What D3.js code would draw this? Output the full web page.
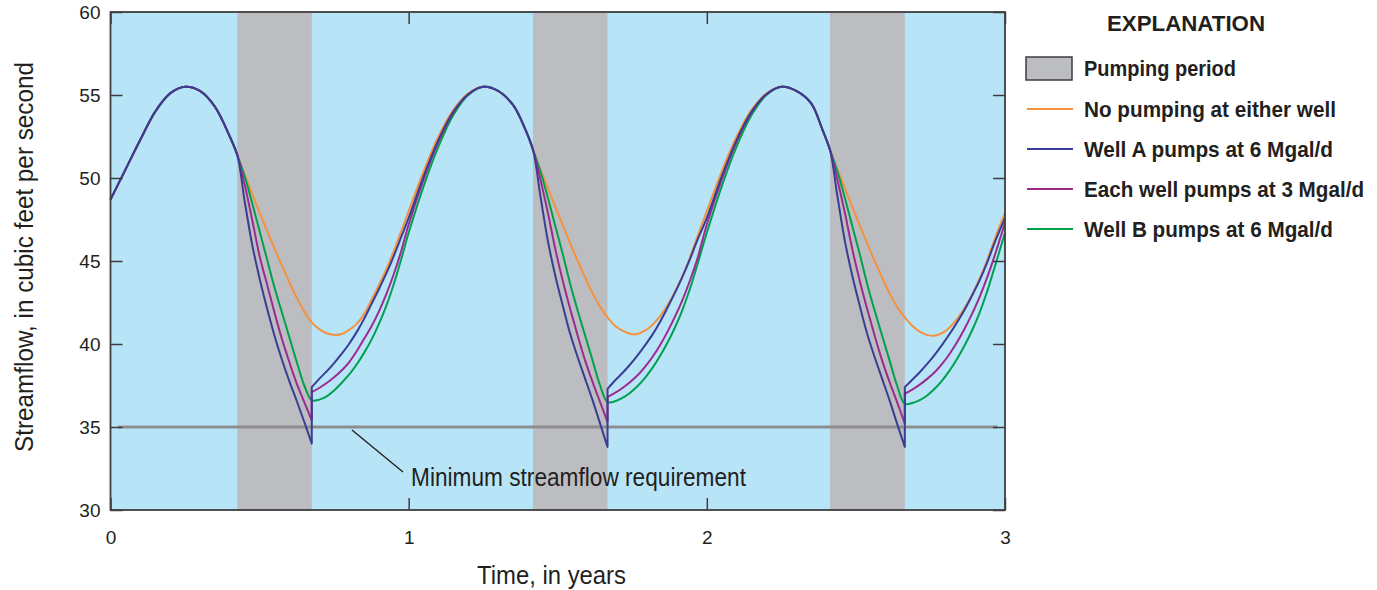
<!DOCTYPE html>
<html>
<head>
<meta charset="utf-8">
<script src="https://cdn.jsdelivr.net/npm/d3@7"></script>
<style>
  html, body { margin: 0; padding: 0; background: #ffffff; }
  svg { display: block; }
  text { font-family: 'Liberation Sans', Arial, sans-serif; fill: #231f20; }
</style>
</head>
<body>
<svg id="chart" width="1377" height="590"></svg>
<script>
// ---------------- DATA ----------------
const times = [
  0, 0.05, 0.1, 0.15, 0.2, 0.25, 0.3, 0.35, 0.4, 0.425,
  0.45, 0.475, 0.5, 0.525, 0.55, 0.575, 0.6, 0.625, 0.65, 0.675,
  0.675, 0.7, 0.725, 0.75, 0.775, 0.8, 0.825, 0.85, 0.875, 0.9, 0.925, 0.95, 0.975,
  1.0, 1.05, 1.1, 1.15, 1.2, 1.25, 1.3, 1.35, 1.392, 1.417,
  1.442, 1.467, 1.492, 1.517, 1.542, 1.567, 1.592, 1.617, 1.642, 1.667,
  1.667, 1.692, 1.717, 1.742, 1.767, 1.792, 1.817, 1.842, 1.867, 1.892, 1.917, 1.942, 1.967,
  2.0, 2.05, 2.1, 2.15, 2.2, 2.25, 2.3, 2.35, 2.388, 2.413,
  2.438, 2.463, 2.488, 2.513, 2.538, 2.563, 2.588, 2.613, 2.638, 2.664,
  2.664, 2.689, 2.714, 2.739, 2.764, 2.789, 2.814, 2.839, 2.864, 2.889, 2.914, 2.939, 2.964, 3.0
];

const noPumping = [
  48.7, 50.5, 52.3, 54.0, 55.1, 55.5, 55.25, 54.3, 52.5, 51.4,
  50.2, 49.05, 47.92, 46.82, 45.75, 44.72, 43.72, 42.78, 41.95, 41.3,
  41.3, 40.9, 40.65, 40.55, 40.6, 40.85, 41.2, 41.8, 42.65, 43.55, 44.5, 45.6, 46.8,
  48.0, 50.4, 52.5, 54.1, 55.1, 55.5, 55.25, 54.4, 52.9, 51.7,
  50.5, 49.4, 48.25, 47.15, 46.05, 45.0, 44.0, 43.05, 42.25, 41.6,
  41.6, 41.1, 40.8, 40.62, 40.6, 40.8, 41.15, 41.65, 42.3, 43.1, 44.05, 45.15, 46.4,
  48.0, 50.4, 52.5, 54.1, 55.1, 55.5, 55.25, 54.5, 52.9, 51.7,
  50.5, 49.4, 48.25, 47.15, 46.05, 45.0, 44.0, 43.05, 42.25, 41.6,
  41.6, 41.1, 40.75, 40.55, 40.5, 40.65, 41.0, 41.5, 42.15, 42.95, 43.9, 45.0, 46.25, 47.9
];

const wellA6 = [
  48.7, 50.5, 52.3, 54.0, 55.1, 55.5, 55.25, 54.3, 52.5, 51.4,
  48.6, 46.0, 43.95, 42.15, 40.5, 39.05, 37.75, 36.55, 35.3, 34.0,
  37.4, 37.9, 38.35, 38.85, 39.4, 40.0, 40.7, 41.5, 42.4, 43.3, 44.25, 45.3, 46.45,
  47.6, 50.1, 52.3, 54.0, 55.05, 55.5, 55.25, 54.4, 52.9, 51.7,
  48.9, 46.2, 44.1, 42.3, 40.6, 39.2, 37.9, 36.6, 35.2, 33.8,
  37.3, 37.8, 38.25, 38.75, 39.3, 39.9, 40.55, 41.3, 42.15, 43.05, 44.0, 45.05, 46.2,
  47.6, 50.1, 52.3, 54.0, 55.05, 55.5, 55.25, 54.5, 52.9, 51.7,
  48.9, 46.2, 44.1, 42.3, 40.6, 39.2, 37.9, 36.6, 35.2, 33.8,
  37.4, 37.85, 38.3, 38.8, 39.35, 39.95, 40.6, 41.3, 42.05, 42.9, 43.8, 44.85, 46.05, 47.6
];

const eachWell3 = [
  48.7, 50.5, 52.3, 54.0, 55.1, 55.5, 55.25, 54.3, 52.5, 51.4,
  49.6, 47.5, 45.3, 43.6, 41.9, 40.3, 38.9, 37.6, 36.5, 35.4,
  37.1, 37.35, 37.65, 38.0, 38.4, 38.9, 39.55, 40.3, 41.05, 41.95, 43.0, 44.2, 45.6,
  47.2, 49.9, 52.2, 53.95, 55.05, 55.5, 55.25, 54.4, 52.9, 51.7,
  49.9, 47.9, 45.7, 43.8, 42.1, 40.5, 39.0, 37.7, 36.5, 35.3,
  36.8, 37.05, 37.35, 37.7, 38.1, 38.6, 39.2, 39.9, 40.7, 41.6, 42.6, 43.75, 45.05,
  47.2, 49.9, 52.2, 53.95, 55.05, 55.5, 55.25, 54.5, 52.9, 51.7,
  49.9, 47.9, 45.7, 43.8, 42.1, 40.5, 39.0, 37.7, 36.5, 35.2,
  37.0, 37.25, 37.55, 37.9, 38.3, 38.8, 39.4, 40.1, 40.9, 41.8, 42.8, 43.95, 45.25, 47.3
];

const wellB6 = [
  48.7, 50.5, 52.3, 54.0, 55.1, 55.5, 55.25, 54.3, 52.5, 51.4,
  50.1, 48.5, 46.8, 45.1, 43.4, 41.9, 40.4, 38.9, 37.5, 36.6,
  36.6, 36.65, 36.85, 37.2, 37.65, 38.15, 38.75, 39.45, 40.25, 41.2, 42.3, 43.6, 45.1,
  46.7, 49.5, 51.9, 53.8, 55.0, 55.5, 55.25, 54.4, 52.9, 51.7,
  50.4, 48.8, 47.1, 45.4, 43.6, 42.0, 40.5, 39.0, 37.5, 36.5,
  36.5, 36.55, 36.75, 37.05, 37.45, 37.95, 38.55, 39.25, 40.05, 40.95, 42.0, 43.25, 44.7,
  46.7, 49.5, 51.9, 53.8, 55.0, 55.5, 55.25, 54.5, 52.9, 51.7,
  50.4, 48.8, 47.1, 45.4, 43.6, 42.0, 40.5, 39.0, 37.5, 36.4,
  36.4, 36.45, 36.62, 36.9, 37.3, 37.8, 38.4, 39.1, 39.9, 40.8, 41.85, 43.1, 44.55, 46.7
];

const pumpStarts = [0.425, 1.417, 2.413];
const pumpEnds   = [0.675, 1.667, 2.664];

const minimumFlow = 35;
const minimumSpan = [0.025, 2.975];

const yTicks = [30, 35, 40, 45, 50, 55, 60];
const xTicks = [0, 1, 2, 3];

const seriesNames  = ["No pumping at either well", "Well A pumps at 6 Mgal/d", "Each well pumps at 3 Mgal/d", "Well B pumps at 6 Mgal/d"];
const seriesValues = [noPumping, wellA6, eachWell3, wellB6];
const seriesColors = ["#f5923e", "#3a3d94", "#9c2a8f", "#00a04f"];

// ---------------- CHART ----------------
(function () {
const svg = d3.select("#chart");
const pL = 110.5, pR = 1005, pT = 12, pB = 510;
const FONT = "'Liberation Sans', Arial, sans-serif";

const x = d3.scaleLinear().domain([0, 3]).range([pL, pR]);
const y = d3.scaleLinear().domain([30, 60]).range([pB, pT]);

function fit(sel, w) {
  sel.attr("textLength", w).attr("lengthAdjust", "spacingAndGlyphs");
  return sel;
}

svg.append("rect")
  .attr("x", pL).attr("y", pT)
  .attr("width", pR - pL).attr("height", pB - pT)
  .attr("fill", "#b8e4f8");

svg.append("g").selectAll("rect")
  .data(pumpStarts.map((s, i) => [s, pumpEnds[i]]))
  .join("rect")
  .attr("x", d => x(d[0]))
  .attr("y", pT)
  .attr("width", d => x(d[1]) - x(d[0]))
  .attr("height", pB - pT)
  .attr("fill", "#bcbdc0");

svg.append("line")
  .attr("x1", x(minimumSpan[0])).attr("x2", x(minimumSpan[1]))
  .attr("y1", y(minimumFlow)).attr("y2", y(minimumFlow))
  .attr("stroke", "#8d8e90").attr("stroke-width", 3);

const lineGen = d3.line().x(d => x(d[0])).y(d => y(d[1])).curve(d3.curveCatmullRom.alpha(0.5));

function pathFor(values) {
  const segs = [];
  let cur = [];
  for (let i = 0; i < times.length; i++) {
    const p = [times[i], values[i]];
    if (cur.length && times[i] === cur[cur.length - 1][0]) {
      if (values[i] === cur[cur.length - 1][1]) continue;
      segs.push(cur);
      cur = [p];
      continue;
    }
    cur.push(p);
  }
  segs.push(cur);
  return segs.map((s, i) => {
    const d = lineGen(s);
    return i === 0 ? d : "L" + d.slice(1);
  }).join("");
}

const drawOrder = [0, 3, 2, 1];
svg.append("g").selectAll("path")
  .data(drawOrder)
  .join("path")
  .attr("d", i => pathFor(seriesValues[i]))
  .attr("fill", "none")
  .attr("stroke", i => seriesColors[i])
  .attr("stroke-width", 2)
  .attr("stroke-linejoin", "round");

const tickLen = 12;
const axisColor = "#3d3d3f";

const gLeft = svg.append("g").attr("transform", `translate(${pL},0)`)
  .call(d3.axisLeft(y).tickValues(yTicks).tickSize(-tickLen).tickPadding(10).tickFormat(d3.format("d")));
const gRight = svg.append("g").attr("transform", `translate(${pR},0)`)
  .call(d3.axisRight(y).tickValues(yTicks).tickSize(-tickLen).tickFormat(""));
const gBottom = svg.append("g").attr("transform", `translate(0,${pB})`)
  .call(d3.axisBottom(x).tickValues(xTicks).tickSize(-tickLen).tickPadding(21).tickFormat(d3.format("d")));
const gTop = svg.append("g").attr("transform", `translate(0,${pT})`)
  .call(d3.axisTop(x).tickValues(xTicks).tickSize(-tickLen).tickFormat(""));

[gLeft, gRight, gBottom, gTop].forEach(g => {
  g.select(".domain").remove();
  g.selectAll(".tick line").attr("stroke", axisColor).attr("stroke-width", 1.5);
  g.selectAll("text")
    .attr("font-family", FONT)
    .attr("font-size", 19).attr("fill", "#231f20");
});
gLeft.selectAll("text").attr("dy", "0.36em");

svg.append("rect")
  .attr("x", pL).attr("y", pT)
  .attr("width", pR - pL).attr("height", pB - pT)
  .attr("fill", "none").attr("stroke", axisColor).attr("stroke-width", 1.8);

fit(svg.append("text")
  .attr("transform", `translate(33,257) rotate(-90)`)
  .attr("text-anchor", "middle").attr("font-size", 25)
  .text("Streamflow, in cubic feet per second"), 390);

fit(svg.append("text")
  .attr("x", 551.5).attr("y", 584)
  .attr("text-anchor", "middle").attr("font-size", 25)
  .text("Time, in years"), 149);

svg.append("line")
  .attr("x1", 352).attr("y1", 430).attr("x2", 403).attr("y2", 472)
  .attr("stroke", "#231f20").attr("stroke-width", 1.4);
fit(svg.append("text")
  .attr("x", 411).attr("y", 486)
  .attr("font-size", 25)
  .text("Minimum streamflow requirement"), 335);

const lg = svg.append("g");
fit(lg.append("text")
  .attr("x", 1107).attr("y", 31)
  .attr("font-size", 22).attr("font-weight", "bold")
  .text("EXPLANATION"), 158);

lg.append("rect")
  .attr("x", 1026).attr("y", 57).attr("width", 46).attr("height", 23)
  .attr("fill", "#bcbdc0").attr("stroke", "#3d3d3f").attr("stroke-width", 1.5);
fit(lg.append("text")
  .attr("x", 1084).attr("y", 76)
  .attr("font-size", 21.5).attr("font-weight", "bold")
  .text("Pumping period"), 152);

const legendRowsY = [109, 149, 189, 229];
const legendWidths = [252, 249, 280, 249];
seriesNames.forEach((name, i) => {
  lg.append("line")
    .attr("x1", 1027).attr("x2", 1073)
    .attr("y1", legendRowsY[i]).attr("y2", legendRowsY[i])
    .attr("stroke", seriesColors[i]).attr("stroke-width", 2);
  fit(lg.append("text")
    .attr("x", 1084).attr("y", legendRowsY[i] + 8)
    .attr("font-size", 21.5).attr("font-weight", "bold")
    .text(name), legendWidths[i]);
});
})();
</script>
</body>
</html>
